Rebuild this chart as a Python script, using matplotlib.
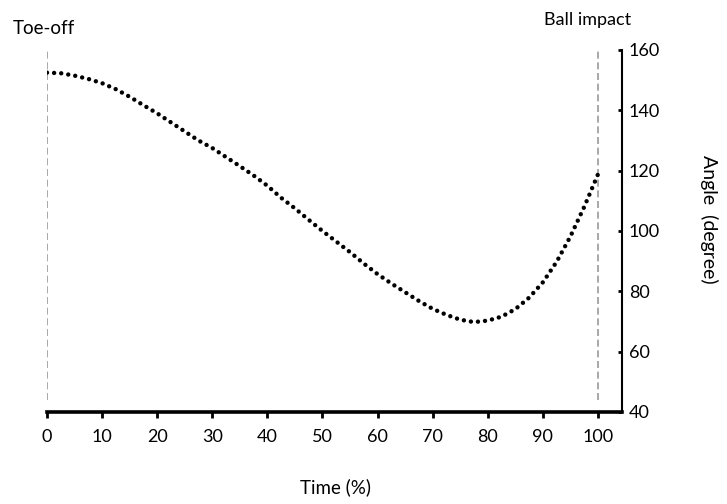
import matplotlib
matplotlib.use("Agg")
import matplotlib.pyplot as plt

# ---- data ----
time_pct = [0, 2.5, 5, 7.5, 10, 12.5, 15, 17.5, 20, 22.5, 25, 27.5, 30, 32.5,
            35, 37.5, 40, 42.5, 45, 47.5, 50, 52.5, 55, 57.5, 60, 62.5, 65,
            67.5, 70, 72.5, 75, 77.5, 80, 82.5, 85, 87.5, 90, 92.5, 95, 97.5, 100]
angle_deg = [152.5, 152.3, 151.5, 150.4, 149.0, 147.0, 144.5, 141.7, 139.0, 136.0,
             133.0, 130.0, 127.5, 124.5, 121.5, 118.4, 115.0, 111.0, 107.5, 103.7,
             100.0, 96.5, 93.0, 89.2, 85.7, 82.6, 79.7, 76.8, 74.2, 72.2, 70.6,
             69.8, 70.3, 71.6, 74.1, 77.9, 83.0, 89.8, 98.2, 108.0, 118.8]
events = [0, 100]
event_labels = ["Toe-off", "Ball impact"]
x_ticks = [0, 10, 20, 30, 40, 50, 60, 70, 80, 90, 100]
y_ticks = [40, 60, 80, 100, 120, 140, 160]

plt.rcParams['font.family'] = ['Lato', 'DejaVu Sans']

fig = plt.figure(figsize=(7.27, 5.04), dpi=100)
ax = fig.add_axes([47/727, 1-412/504, (622-47)/727, (412-50)/504])

ax.set_xlim(0, 104.36)
ax.set_ylim(40, 160)

# event dashed lines
ax.vlines(events, 44, 160, colors='#999999', linestyles=(0, (4.2, 2.2)), linewidth=1.2)

# curve as round-dot line
ax.plot(time_pct, angle_deg, color='black', linewidth=3.2,
        linestyle=(0, (0.001, 1.6)), dash_capstyle='round', solid_capstyle='round')

# spines
for s in ['top', 'left']:
    ax.spines[s].set_visible(False)
ax.spines['bottom'].set_linewidth(2.6)
ax.spines['right'].set_linewidth(1.5)

ax.yaxis.tick_right()
ax.set_xticks(x_ticks)
ax.set_yticks(y_ticks)
ax.tick_params(axis='x', direction='out', length=4, width=2, labelsize=13, pad=8)
ax.tick_params(axis='y', direction='in', length=3, width=2, labelsize=13, pad=5)
ax.tick_params(axis='y', which='both', left=False, right=True)

# event labels
ax.text(13/727, 1-28/504, event_labels[0], transform=fig.transFigure,
        fontsize=13.5, ha='left', va='center')
ax.text(588/727, 1-20/504, event_labels[1], transform=fig.transFigure,
        fontsize=13, ha='center', va='center')

fig.text(336/727, 1-487/504, "Time (%)", fontsize=13.5, ha='center', va='center')
fig.text(709/727, 1-219/504, "Angle  (degree)", fontsize=14, ha='center',
         va='center', rotation=-90)

fig.savefig("out.png", dpi=100)
